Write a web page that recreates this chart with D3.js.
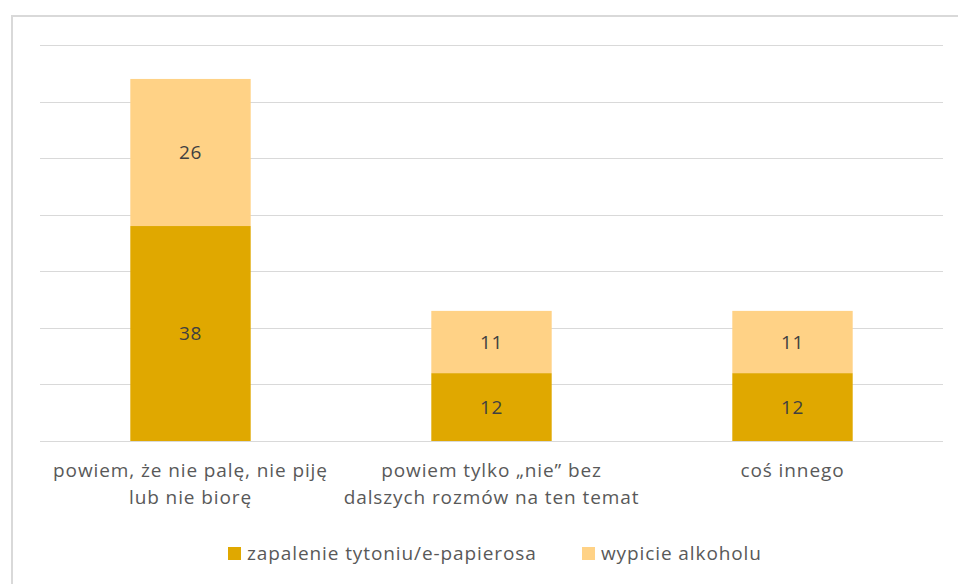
<!DOCTYPE html>
<html>
<head>
<meta charset="utf-8">
<script src="https://cdn.jsdelivr.net/npm/d3@7"></script>
<style>
  body { margin: 0; background: #fff; }
  text { font-family: "Open Sans", sans-serif; }
</style>
</head>
<body>
<div id="chart"></div>
<script>
// data
var categories = [
    ["powiem, że nie palę, nie piję", "lub nie biorę"],
    ["powiem tylko „nie” bez", "dalszych rozmów na ten temat"],
    ["coś innego"]
];
var seriesNames = ["zapalenie tytoniu/e-papierosa", "wypicie alkoholu"];
var tobacco = [38, 12, 12];
var alcohol = [26, 11, 11];
var yTicks = [0, 10, 20, 30, 40, 50, 60, 70];

var colors = ["#E0A800", "#FFD286"];

var W = 958, H = 584;
var margin = {top: 45, right: 15, bottom: 143, left: 40},
    width = W - margin.left - margin.right,
    height = H - margin.top - margin.bottom;

var svg = d3.select("#chart").append("svg")
    .attr("width", W)
    .attr("height", H);

// chart frame
svg.append("path")
    .attr("d", "M12,584 V16 H958")
    .attr("fill", "none")
    .attr("stroke", "#d9d9d9")
    .attr("stroke-width", 2);

var g = svg.append("g")
    .attr("transform", "translate(" + margin.left + "," + margin.top + ")");

var x = d3.scaleBand()
    .domain(d3.range(categories.length))
    .range([0, width])
    .paddingInner(0.6)
    .paddingOuter(0.3);

var y = d3.scaleLinear()
    .domain([0, 70])
    .range([height, 0]);

// gridlines
g.selectAll(".grid")
    .data(yTicks)
    .enter().append("line")
    .attr("x1", 0)
    .attr("x2", width)
    .attr("y1", function(d) { return Math.round(y(d)) + 0.5; })
    .attr("y2", function(d) { return Math.round(y(d)) + 0.5; })
    .attr("stroke", "#d9d9d9")
    .attr("stroke-width", 1);

// stack data
var rows = categories.map(function(c, i) {
    return {i: i, tobacco: tobacco[i], alcohol: alcohol[i]};
});
var stack = d3.stack().keys(["tobacco", "alcohol"]);
var layers = stack(rows);

var layer = g.selectAll(".layer")
    .data(layers)
    .enter().append("g")
    .attr("fill", function(d, i) { return colors[i]; });

layer.selectAll("rect")
    .data(function(d) { return d; })
    .enter().append("rect")
    .attr("x", function(d) { return x(d.data.i); })
    .attr("width", x.bandwidth())
    .attr("y", function(d) { return y(d[1]); })
    .attr("height", function(d) { return y(d[0]) - y(d[1]); });

layer.selectAll("text")
    .data(function(d) { return d; })
    .enter().append("text")
    .attr("x", function(d) { return x(d.data.i) + x.bandwidth() / 2; })
    .attr("y", function(d) { return (y(d[0]) + y(d[1])) / 2; })
    .attr("dy", ".35em")
    .attr("text-anchor", "middle")
    .attr("fill", "#404040")
    .style("font-size", "19px")
    .style("letter-spacing", "0.6px")
    .text(function(d) { return d[1] - d[0]; });

// category labels
var lab = g.selectAll(".cat")
    .data(categories)
    .enter().append("text")
    .attr("text-anchor", "middle")
    .attr("fill", "#595959")
    .style("font-size", "19px")
    .style("letter-spacing", "0.9px");

lab.selectAll("tspan")
    .data(function(d, i) { return d.map(function(t) { return {t: t, i: i}; }); })
    .enter().append("tspan")
    .attr("x", function(d) { return x(d.i) + x.bandwidth() / 2; })
    .attr("y", function(d, j) { return height + 36 + j * 27; })
    .text(function(d) { return d.t; });

// legend
var legend = svg.append("g")
    .attr("transform", "translate(228,547)");
var legX = [0, 354];
seriesNames.forEach(function(name, i) {
    legend.append("rect")
        .attr("x", legX[i])
        .attr("y", 0)
        .attr("width", 13)
        .attr("height", 13)
        .attr("fill", colors[i]);
    legend.append("text")
        .attr("x", legX[i] + 19)
        .attr("y", 13)
        .attr("fill", "#595959")
        .style("font-size", "19px")
        .style("letter-spacing", "0.9px")
        .text(name);
});
</script>
</body>
</html>
